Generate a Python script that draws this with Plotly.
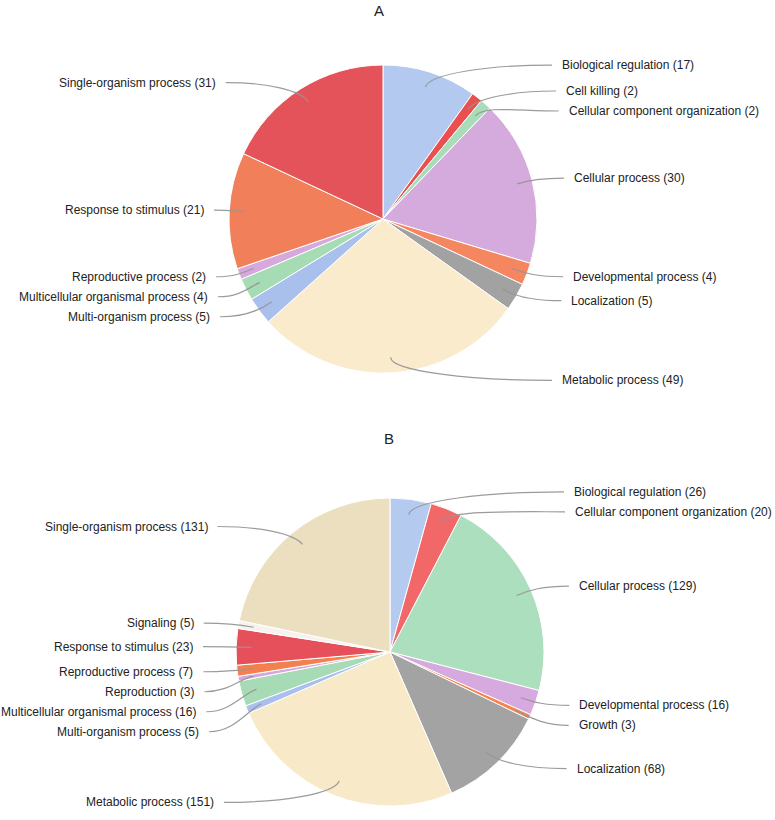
import math
import plotly.graph_objects as go

W, H = 775, 820

# ---------------- data ----------------
labels_a = ["Biological regulation", "Cell killing", "Cellular component organization",
            "Cellular process", "Developmental process", "Localization", "Metabolic process",
            "Multi-organism process", "Multicellular organismal process", "Reproductive process",
            "Response to stimulus", "Single-organism process"]
values_a = [17, 2, 2, 30, 4, 5, 49, 5, 4, 2, 21, 31]
colors_a = ["#b4c9ef", "#ea5050", "#a9dcb8", "#d5aadc", "#f4875f", "#a2a2a2", "#f9ebcb",
            "#aac0ec", "#a6dcb3", "#d6a8de", "#f1805a", "#e5535a"]

labels_b = ["Biological regulation", "Cellular component organization", "Cellular process",
            "Developmental process", "Growth", "Localization", "Metabolic process",
            "Multi-organism process", "Multicellular organismal process", "Reproduction",
            "Reproductive process", "Response to stimulus", "Signaling", "Single-organism process"]
values_b = [26, 20, 129, 16, 3, 68, 151, 5, 16, 3, 7, 23, 5, 131]
colors_b = ["#b5caef", "#f26768", "#abdfbd", "#d6a9df", "#f6844e", "#a3a3a3", "#f8eac9",
            "#aabfee", "#a7dbb6", "#d7a8df", "#f3804f", "#e5505a", "#f6f3ef", "#ecdfc0"]

# ---------------- layout geometry (pixels) ----------------
pies = [
    dict(title="A", labels=labels_a, values=values_a, colors=colors_a,
         cx=383, cy=219, r=154, ty=10, tx=379, xr=573, fr=13, xl=206, fl=15),
    dict(title="B", labels=labels_b, values=values_b, colors=colors_b,
         cx=390, cy=652, r=154, ty=438, tx=389, xr=578, fr=6, xl=195, fl=22),
]

GAP = 20
TEXT_FONT = dict(family="Liberation Sans, Arial, sans-serif", size=12, color="#222222")
LINE_COLOR = "rgba(150,150,150,0.95)"


def px(x):
    return x / W


def py(y):
    return 1 - y / H


fig = go.Figure()
shapes = []
annotations = []

for p in pies:
    cx, cy, r = p["cx"], p["cy"], p["r"]
    fig.add_trace(go.Pie(
        labels=p["labels"], values=p["values"],
        marker=dict(colors=p["colors"], line=dict(color="white", width=1)),
        sort=False, direction="clockwise", rotation=0,
        textinfo="none", showlegend=False, hoverinfo="label+value",
        domain=dict(x=[px(cx - r), px(cx + r)], y=[py(cy + r), py(cy - r)]),
    ))
    annotations.append(dict(x=px(p["tx"]), y=py(p["ty"]), xref="paper", yref="paper",
                            text=p["title"], showarrow=False,
                            font=dict(family="Liberation Sans, Arial, sans-serif", size=15, color="#222"),
                            xanchor="center", yanchor="middle"))

    total = sum(p["values"])
    cum = 0
    items = []
    for lab, val in zip(p["labels"], p["values"]):
        th = (cum + val / 2) / total * 2 * math.pi
        cum += val
        ux, uy = math.sin(th), -math.cos(th)
        sx, sy = cx + 0.9 * r * ux, cy + 0.9 * r * uy
        ly = cy + 1.05 * r * uy
        side = "right" if th < math.pi else "left"
        items.append(dict(text=f"{lab} ({val})", ux=ux, uy=uy, sx=sx, sy=sy, ly=ly, side=side))

    for side in ("right", "left"):
        grp = sorted([it for it in items if it["side"] == side], key=lambda d: d["ly"])
        for i in range(1, len(grp)):
            if grp[i]["ly"] < grp[i - 1]["ly"] + GAP:
                grp[i]["ly"] = grp[i - 1]["ly"] + GAP

    for it in items:
        ly = it["ly"]
        t = min(1.0, abs(ly - cy) / r)
        if it["side"] == "right":
            tx = p["xr"] - p["fr"] * t * t
            ex = tx - 8
            xanchor = "left"
        else:
            tx = p["xl"] + p["fl"] * t * t
            ex = tx + 8
            xanchor = "right"
        annotations.append(dict(x=px(tx), y=py(ly), xref="paper", yref="paper",
                                text=it["text"], showarrow=False, font=TEXT_FONT,
                                xanchor=xanchor, yanchor="middle"))
        sx, sy = it["sx"], it["sy"]
        x1, y1 = sx + it["ux"] * 14, sy + it["uy"] * 14
        x2, y2 = sx + (ex - sx) * 0.5, ly
        path = (f"M {px(sx)},{py(sy)} C {px(x1)},{py(y1)} {px(x2)},{py(y2)} "
                f"{px(ex)},{py(ly)}")
        shapes.append(dict(type="path", path=path, xref="paper", yref="paper",
                           line=dict(color=LINE_COLOR, width=1.2), layer="above"))

fig.update_layout(
    width=W, height=H,
    margin=dict(l=0, r=0, t=0, b=0),
    paper_bgcolor="white", plot_bgcolor="white",
    showlegend=False,
    shapes=shapes, annotations=annotations,
)

fig.write_html("out.html", config={"displayModeBar": False})

# remove the browser's default page margin so the figure sits at the window origin
with open("out.html", "r", encoding="utf-8") as f:
    html = f.read()
html = html.replace("<head>", "<head><style>html,body{margin:0;padding:0;overflow:hidden;}</style>", 1)
with open("out.html", "w", encoding="utf-8") as f:
    f.write(html)
